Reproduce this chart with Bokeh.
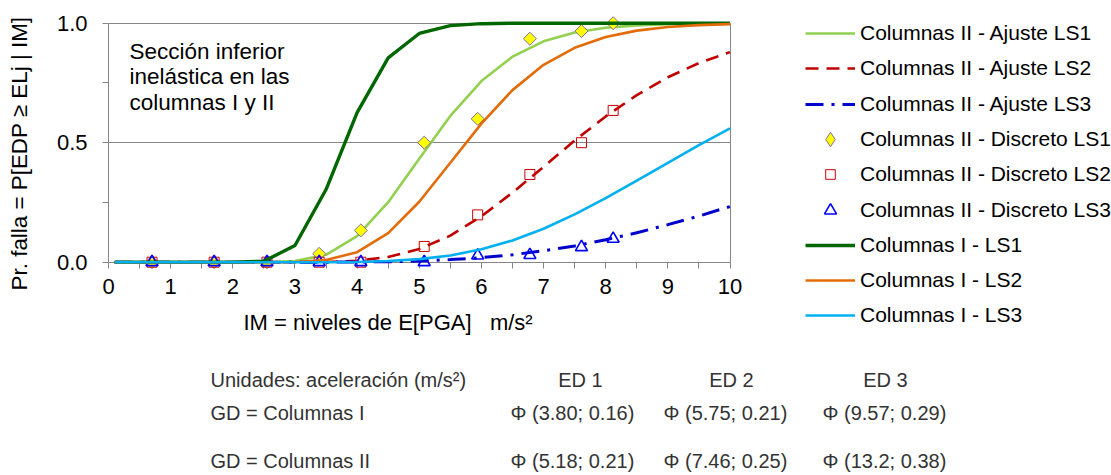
import math
from bokeh.plotting import figure
from bokeh.models import (FixedTicker, Label, Legend, LegendItem, LinearAxis,
                          NumeralTickFormatter, Range1d)
from bokeh.embed import file_html
from bokeh.resources import INLINE

# ---------------- data ----------------
im = [0.1, 0.5, 1.0, 1.5, 2.0, 2.5, 3.0, 3.5, 4.0, 4.5, 5.0,
      5.5, 6.0, 6.5, 7.0, 7.5, 8.0, 8.5, 9.0, 9.5, 10.0]

col2_fit_ls1 = [0, 0, 0, 0, 0, 0.000, 0.005, 0.031, 0.109, 0.251, 0.433,
                0.612, 0.758, 0.860, 0.924, 0.961, 0.981, 0.991, 0.996, 0.998, 0.999]
col2_fit_ls2 = [0, 0, 0, 0, 0, 0, 0.000, 0.001, 0.006, 0.022, 0.055,
                0.111, 0.192, 0.291, 0.399, 0.509, 0.610, 0.699, 0.774, 0.833, 0.879]
col2_fit_ls3 = [0, 0, 0, 0, 0, 0, 0, 0.000, 0.001, 0.002, 0.005,
                0.011, 0.019, 0.031, 0.048, 0.068, 0.094, 0.123, 0.157, 0.193, 0.233]

col1_ls1 = [0, 0, 0, 0, 0, 0.004, 0.070, 0.304, 0.626, 0.855, 0.957,
            0.990, 0.998, 1.0, 1.0, 1.0, 1.0, 1.0, 1.0, 1.0, 1.0]
col1_ls2 = [0, 0, 0, 0, 0, 0, 0.001, 0.009, 0.042, 0.122, 0.253,
            0.416, 0.580, 0.720, 0.826, 0.897, 0.942, 0.969, 0.984, 0.992, 0.996]
col1_ls3 = [0, 0, 0, 0, 0, 0, 0, 0.000, 0.001, 0.005, 0.013,
            0.028, 0.054, 0.091, 0.140, 0.200, 0.268, 0.341, 0.416, 0.490, 0.560]

im_disc = [0.70, 1.70, 2.55, 3.39, 4.06, 5.08, 5.94, 6.78, 7.61, 8.12]
disc_ls1 = [0, 0, 0, 0.035, 0.133, 0.50, 0.60, 0.935, 0.967, 1.0]
disc_ls2 = [0, 0, 0, 0, 0.0, 0.066, 0.198, 0.367, 0.50, 0.635]
disc_ls3 = [0, 0, 0, 0, 0, 0, 0.028, 0.030, 0.063, 0.098]

x_ticks = list(range(0, 11))
x_minor = [i + 0.5 for i in range(10)]
y_ticks = [0.0, 0.5, 1.0]
y_minor = [0.25, 0.75]
y_gridlines = [0.5, 1.0]

legend_labels = ["Columnas II - Ajuste LS1", "Columnas II - Ajuste LS2",
                 "Columnas II - Ajuste LS3", "Columnas II - Discreto LS1",
                 "Columnas II - Discreto LS2", "Columnas II - Discreto LS3",
                 "Columnas I - LS1", "Columnas I - LS2", "Columnas I - LS3"]

note_lines = ["Sección inferior", "inelástica en las", "columnas I y II"]
y_title = "Pr. falla = P[EDP ≥ ELj | IM]"
x_title = "IM = niveles de E[PGA]\u00a0\u00a0\u00a0m/s²"

table_header = ["Unidades: aceleración (m/s²)", "ED 1", "ED 2", "ED 3"]
table_row1 = ["GD = Columnas I", "Φ (3.80; 0.16)", "Φ (5.75; 0.21)", "Φ (9.57; 0.29)"]
table_row2 = ["GD = Columnas II", "Φ (5.18; 0.21)", "Φ (7.46; 0.25)", "Φ (13.2; 0.38)"]

# ---------------- layout constants ----------------
FONT = "Liberation Sans"
W, H = 1111, 475
X0PX, X10PX = 108.0, 729.5      # page px of x = 0 and x = 10
Y0PX, Y1PX = 261.7, 22.7        # page px of y = 0 and y = 1
XS = (X10PX - X0PX) / 10.0
YS = (Y0PX - Y1PX)


def sx(X):
    return X


def sy(Y):
    return H - Y


# The frame fills the whole canvas; axes are placed with fixed_location.
p = figure(width=W, height=H, min_border=0,
           x_range=Range1d(-X0PX / XS, (W - X0PX) / XS),
           y_range=Range1d(-(H - Y0PX) / YS, Y0PX / YS),
           output_backend="svg", toolbar_location=None)
p.outline_line_color = None
p.background_fill_color = "white"
p.border_fill_color = "white"
p.xgrid.visible = False
p.ygrid.visible = False

GRAY = "#868686"
# x axis
xa = p.xaxis[0]
xa.ticker = FixedTicker(ticks=x_ticks, minor_ticks=x_minor)
xa.bounds = (0, 10)
xa.fixed_location = 0
xa.level = "underlay"
xa.axis_line_color = GRAY
xa.major_tick_line_color = GRAY
xa.minor_tick_line_color = GRAY
xa.major_tick_in = 0
xa.major_tick_out = 6
xa.minor_tick_in = 0
xa.minor_tick_out = 6
xa.major_label_standoff = 11
xa.major_label_text_font = FONT
xa.major_label_text_font_size = "22px"
xa.major_label_text_color = "black"
# y axis
ya = p.yaxis[0]
ya.ticker = FixedTicker(ticks=y_ticks, minor_ticks=y_minor)
ya.formatter = NumeralTickFormatter(format="0.0")
ya.bounds = (0, 1)
ya.fixed_location = 0
ya.level = "underlay"
ya.axis_line_color = GRAY
ya.major_tick_line_color = GRAY
ya.minor_tick_line_color = GRAY
ya.major_tick_in = 0
ya.major_tick_out = 6
ya.minor_tick_in = 0
ya.minor_tick_out = 6
ya.major_label_standoff = 15
ya.major_label_text_font = FONT
ya.major_label_text_font_size = "22px"
ya.major_label_text_color = "black"


def plain_axis(loc, bounds):
    return LinearAxis(fixed_location=loc, bounds=bounds, ticker=FixedTicker(ticks=[]),
                      axis_line_color=GRAY, major_tick_out=0, major_tick_in=0,
                      minor_tick_out=0, minor_tick_in=0,
                      major_label_text_font_size="0px", level="underlay")


# horizontal gridlines and the right border of the plot area
for g in y_gridlines:
    p.add_layout(plain_axis(g, (0, 10)), "below")
p.add_layout(plain_axis(10, (0, 1)), "left")

# ---------------- series ----------------
r_fit1 = p.line(im, col2_fit_ls1, line_color="#92D050", line_width=2.6)
r_fit2 = p.line(im, col2_fit_ls2, line_color="#C00000", line_width=2.6, line_dash="13 8")
r_fit3 = p.line(im, col2_fit_ls3, line_color="#0000CC", line_width=3, line_dash="18 8 3 8")

# legend-only twin of the LS1 markers (size 0: nothing drawn in the plot)
r_d1_leg = p.scatter(im_disc, disc_ls1, marker="diamond", size=0,
                     fill_color="#FFFF00", line_color="#7F6F9F", line_width=1)
r_d1 = p.scatter(im_disc, disc_ls1, marker="square", angle=math.pi / 4, size=9.2,
                 fill_color="#FFFF00", line_color="#7F6F9F", line_width=1)
r_d2 = p.scatter(im_disc, disc_ls2, marker="square", size=10,
                 fill_color=None, line_color="#CC0000", line_width=1)
r_d3 = p.scatter(im_disc, disc_ls3, marker="triangle", size=12,
                 fill_color=None, line_color="#0000FF", line_width=1.6)

r_c1 = p.line(im, col1_ls1, line_color="#006600", line_width=3.4)
r_c2 = p.line(im, col1_ls2, line_color="#E36C09", line_width=2.6)
r_c3 = p.line(im, col1_ls3, line_color="#00B0F0", line_width=2.6)

# ---------------- legend (one row per Legend, placed at right) ----------------
leg_rends = [r_fit1, r_fit2, r_fit3, r_d1_leg, r_d2, r_d3, r_c1, r_c2, r_c3]
leg_gh = [24, 24, 24, 36, 24, 30, 24, 24, 24]
for i, (lab, rend, gh) in enumerate(zip(legend_labels, leg_rends, leg_gh)):
    cy = 33 + 35.3 * i
    leg = Legend(items=[LegendItem(label=lab, renderers=[rend])],
                 location=(sx(805), sy(cy) - gh / 2),
                 glyph_width=50, glyph_height=gh, label_height=gh,
                 label_standoff=5, padding=0, margin=0, spacing=0,
                 border_line_color=None, background_fill_alpha=0,
                 label_text_font=FONT, label_text_font_size="21px",
                 label_text_color="black")
    p.add_layout(leg)


# ---------------- texts ----------------
def add_text(txt, X, Y, size, align="left", angle=0.0, color="black"):
    p.add_layout(Label(x=sx(X), y=sy(Y), x_units="screen", y_units="screen",
                       text=txt, text_font=FONT, text_font_size=size,
                       text_align=align, text_baseline="middle", angle=angle,
                       text_color=color))


for k, line in enumerate(note_lines):
    add_text(line, 129, 50.5 + 25.7 * k, "22.5px")

add_text(y_title, 19, 153, "22.4px", align="center", angle=math.pi / 2)
add_text(x_title, 243, 322, "22px")

TC = "#333333"
TS = "20px"
add_text(table_header[0], 210, 379, TS, color=TC)
for txt, cx in zip(table_header[1:], [580, 731, 885]):
    add_text(txt, cx, 379, TS, align="center", color=TC)
for row, Y in ((table_row1, 412), (table_row2, 460)):
    add_text(row[0], 210, Y, TS, color=TC)
    for txt, left in zip(row[1:], [510, 663, 822]):
        add_text(txt, left, Y, TS, color=TC)

open("out.html", "w").write(file_html(p, INLINE))
